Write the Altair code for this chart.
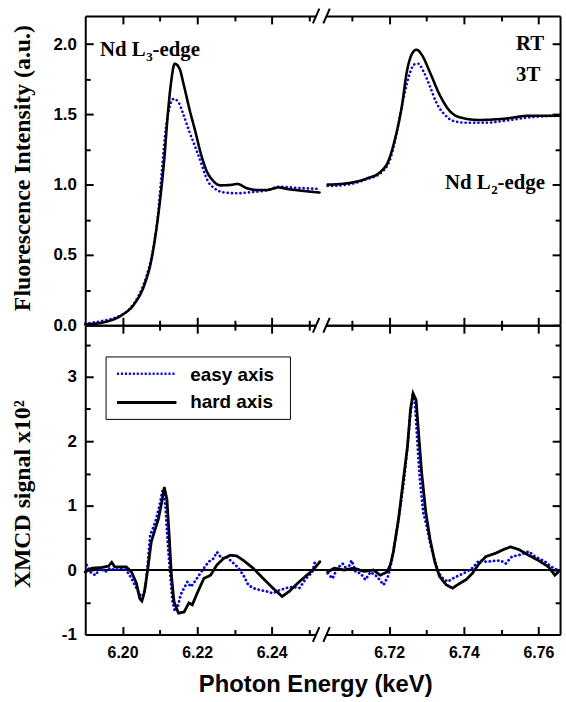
import altair as alt
import pandas as pd

SANS = "Liberation Sans"
SERIF = "Liberation Serif"
BLUE = "#0000ff"

# broken x axis: energies above the gap are drawn shifted left by OFFSET
OFFSET = 0.4485
SPLIT = 6.2555
X_MIN, X_MAX = 6.19, 6.3173
BREAK_E = 6.2533

SERIES = ["easy axis", "hard axis"]
SERIES_COLORS = [BLUE, "black"]
SERIES_DASH = [[0.1, 4.2], [1, 0]]

X_TICK_E = [6.20, 6.21, 6.22, 6.23, 6.24, 6.25, 6.71, 6.72, 6.73, 6.74, 6.75, 6.76]
TOP_Y_TICKS = [0, 0.25, 0.5, 0.75, 1.0, 1.25, 1.5, 1.75, 2.0]
BOT_Y_TICKS = [-1, -0.5, 0, 0.5, 1, 1.5, 2, 2.5, 3, 3.5]

# ---------------- Fluorescence, Nd L3 edge ----------------
L3_E_HARD = [6.1900, 6.1953, 6.1997, 6.2032, 6.2059, 6.2077, 6.2090, 6.2101, 6.2112, 6.2121,
             6.2130, 6.2140, 6.2152, 6.2165, 6.2180, 6.2195, 6.2210, 6.2225, 6.2242, 6.2262,
             6.2290, 6.2308, 6.2334, 6.2361, 6.2387, 6.2418, 6.2440, 6.2476, 6.2528]
L3_V_HARD = [0.005, 0.023, 0.07, 0.153, 0.29, 0.46, 0.67, 0.90, 1.185, 1.49,
             1.725, 1.86, 1.83, 1.70, 1.53, 1.38, 1.22, 1.10, 1.03, 0.995,
             0.998, 1.005, 0.974, 0.962, 0.962, 0.98, 0.97, 0.958, 0.944]
L3_E_EASY = [6.1900, 6.1944, 6.1980, 6.2015, 6.2041, 6.2063, 6.2081, 6.2094, 6.2105, 6.2116,
             6.2125, 6.2137, 6.2149, 6.2163, 6.2178, 6.2196, 6.2210, 6.2220, 6.2230, 6.2246,
             6.2273, 6.2308, 6.2343, 6.2379, 6.2423, 6.2458, 6.2493, 6.2522]
L3_V_EASY = [0.012, 0.03, 0.054, 0.106, 0.20, 0.34, 0.53, 0.763, 1.09, 1.40,
             1.54, 1.61, 1.59, 1.50, 1.385, 1.26, 1.16, 1.08, 1.02, 0.975,
             0.944, 0.939, 0.946, 0.955, 0.986, 0.979, 0.974, 0.97]

# ---------------- Fluorescence, Nd L2 edge ----------------
L2_E_HARD = [6.7035, 6.7088, 6.7141, 6.7176, 6.7198, 6.7216, 6.7234, 6.7247, 6.7260, 6.7273,
             6.7287, 6.7309, 6.7335, 6.7362, 6.7388, 6.7441, 6.7512, 6.7574, 6.7658]
L2_V_HARD = [1.00, 1.01, 1.045, 1.09, 1.17, 1.33, 1.56, 1.80, 1.925, 1.96,
             1.925, 1.80, 1.64, 1.525, 1.48, 1.46, 1.47, 1.49, 1.49]
L2_E_EASY = [6.7035, 6.7088, 6.7141, 6.7176, 6.7203, 6.7220, 6.7238, 6.7256, 6.7267, 6.7278,
             6.7291, 6.7309, 6.7326, 6.7348, 6.7370, 6.7406, 6.7459, 6.7512, 6.7582, 6.7658]
L2_V_EASY = [0.99, 1.00, 1.04, 1.08, 1.185, 1.37, 1.61, 1.80, 1.855, 1.86,
             1.81, 1.70, 1.585, 1.50, 1.455, 1.44, 1.44, 1.455, 1.48, 1.49]

# ---------------- XMCD, Nd L3 edge ----------------
X3_E_HARD = [6.1900, 6.1918, 6.1944, 6.1962, 6.1971, 6.1979, 6.1988, 6.2010, 6.2024, 6.2037,
             6.2046, 6.2052, 6.2059, 6.2068, 6.2077, 6.2085, 6.2096, 6.2105, 6.2112, 6.2119,
             6.2125, 6.2131, 6.2138, 6.2150, 6.2165, 6.2178, 6.2187, 6.2200, 6.2218, 6.2236,
             6.2253, 6.2271, 6.2289, 6.2306, 6.2324, 6.2350, 6.2377, 6.2403, 6.2428, 6.2447,
             6.2474, 6.2500, 6.2518, 6.2529]
X3_V_HARD = [-0.03, 0.03, 0.04, 0.06, 0.12, 0.05, 0.05, 0.05, -0.03, -0.20,
             -0.44, -0.48, -0.33, 0.03, 0.44, 0.59, 0.79, 1.05, 1.28, 1.10,
             0.54, -0.08, -0.49, -0.67, -0.65, -0.51, -0.54, -0.36, -0.13, -0.08,
             0.08, 0.18, 0.23, 0.22, 0.15, 0.03, -0.13, -0.28, -0.41, -0.33,
             -0.18, -0.05, 0.05, 0.13]
X3_E_EASY = [6.1904, 6.1913, 6.1927, 6.1940, 6.1953, 6.1966, 6.1980, 6.1997, 6.2010, 6.2024,
             6.2037, 6.2046, 6.2055, 6.2062, 6.2068, 6.2074, 6.2081, 6.2090, 6.2099, 6.2108,
             6.2115, 6.2121, 6.2128, 6.2134, 6.2140, 6.2147, 6.2156, 6.2165, 6.2174, 6.2183,
             6.2191, 6.2205, 6.2218, 6.2231, 6.2244, 6.2253, 6.2266, 6.2280, 6.2293, 6.2311,
             6.2324, 6.2337, 6.2350, 6.2368, 6.2386, 6.2403, 6.2421, 6.2439, 6.2456, 6.2474,
             6.2492, 6.2509, 6.2516]
X3_V_EASY = [0.08, -0.03, -0.08, 0.03, -0.03, 0.03, 0.00, 0.03, 0.00, -0.13,
             -0.28, -0.38, -0.41, -0.23, 0.13, 0.54, 0.64, 0.79, 1.00, 1.26,
             1.00, 0.44, -0.08, -0.49, -0.64, -0.59, -0.38, -0.28, -0.18, -0.26,
             -0.20, -0.08, 0.03, 0.13, 0.18, 0.28, 0.18, 0.20, 0.13, 0.03,
             -0.08, -0.23, -0.28, -0.31, -0.33, -0.36, -0.31, -0.28, -0.26, -0.28,
             -0.13, -0.03, 0.13]

# ---------------- XMCD, Nd L2 edge ----------------
X2_E_HARD = [6.7035, 6.7053, 6.7079, 6.7105, 6.7132, 6.7158, 6.7176, 6.7194, 6.7203, 6.7211,
             6.7225, 6.7238, 6.7249, 6.7257, 6.7264, 6.7272, 6.7278, 6.7287, 6.7298, 6.7309,
             6.7322, 6.7335, 6.7353, 6.7370, 6.7388, 6.7406, 6.7423, 6.7441, 6.7459, 6.7485,
             6.7503, 6.7525, 6.7547, 6.7574, 6.7600, 6.7627, 6.7644, 6.7653]
X2_V_HARD = [-0.03, 0.03, 0.00, 0.03, -0.02, 0.00, -0.08, -0.03, 0.08, 0.28,
             0.79, 1.41, 1.92, 2.49, 2.74, 2.64, 2.18, 1.51, 0.90, 0.49,
             0.13, -0.10, -0.23, -0.28, -0.21, -0.15, -0.05, 0.10, 0.21, 0.26,
             0.31, 0.36, 0.32, 0.23, 0.15, 0.05, -0.08, -0.03]
X2_E_EASY = [6.7035, 6.7048, 6.7061, 6.7075, 6.7088, 6.7099, 6.7110, 6.7123, 6.7136, 6.7150,
             6.7167, 6.7185, 6.7198, 6.7207, 6.7218, 6.7229, 6.7240, 6.7249, 6.7256, 6.7263,
             6.7269, 6.7275, 6.7282, 6.7291, 6.7300, 6.7311, 6.7322, 6.7331, 6.7344, 6.7357,
             6.7370, 6.7388, 6.7406, 6.7423, 6.7441, 6.7459, 6.7476, 6.7498, 6.7512, 6.7529,
             6.7547, 6.7574, 6.7591, 6.7618, 6.7635, 6.7651]
X2_V_EASY = [-0.05, -0.13, 0.03, 0.10, 0.00, 0.15, -0.03, -0.05, -0.15, -0.03,
             -0.10, -0.23, -0.08, 0.15, 0.54, 0.95, 1.41, 1.92, 2.38, 2.72,
             2.59, 2.03, 1.41, 0.90, 0.69, 0.38, 0.15, -0.03, -0.13, -0.18,
             -0.13, -0.08, -0.03, 0.03, 0.15, 0.13, 0.14, 0.15, 0.10, 0.21,
             0.23, 0.29, 0.21, 0.13, 0.05, 0.00]

# ---------------- annotations ----------------
TOP_LABELS = ["Nd L", "Nd L"]
TOP_SUBS = ["3", "2"]
TOP_SUFFIX = ["-edge", "-edge"]
TOP_LABEL_E = [6.2062, 6.7472]
TOP_LABEL_V = [1.915, 0.970]
COND_TEXT = ["RT", "3T"]
COND_E = [6.7540, 6.7540]
COND_V = [1.958, 1.739]


def frame(E, v, series, seg):
    return pd.DataFrame({"E": E, "v": v, "series": series, "seg": seg})


top_df = pd.concat([
    frame(L3_E_EASY, L3_V_EASY, SERIES[0], "L3"),
    frame(L2_E_EASY, L2_V_EASY, SERIES[0], "L2"),
    frame(L3_E_HARD, L3_V_HARD, SERIES[1], "L3"),
    frame(L2_E_HARD, L2_V_HARD, SERIES[1], "L2"),
], ignore_index=True)
bot_df = pd.concat([
    frame(X3_E_EASY, X3_V_EASY, SERIES[0], "L3"),
    frame(X2_E_EASY, X2_V_EASY, SERIES[0], "L2"),
    frame(X3_E_HARD, X3_V_HARD, SERIES[1], "L3"),
    frame(X2_E_HARD, X2_V_HARD, SERIES[1], "L2"),
], ignore_index=True)

SHIFT = f"datum.E > 6.5 ? datum.E - {OFFSET} : datum.E"
X_TICKS = [round(e - OFFSET, 6) if e > 6.5 else e for e in X_TICK_E]
XE = f"(datum.value > {SPLIT} ? datum.value + {OFFSET} : datum.value)"
X_MAJOR = f"round({XE}*100) % 2 == 0"
TOP_Y_MAJOR = "round(datum.value*4) % 2 == 0"
BOT_Y_MAJOR = "round(datum.value*2) % 2 == 0"

XSCALE = alt.Scale(domain=[X_MIN, X_MAX], nice=False, zero=False)
ONE = pd.DataFrame({"a": [0]})


def axis(orient, values, major, label_expr=None, **extra):
    kw = dict(orient=orient, values=values, grid=False, domain=True, domainColor="black",
              domainWidth=2, ticks=True, tickColor="black", tickWidth=2,
              tickSize=alt.ExprRef(expr=f"({major}) ? -8 : -5"),
              labelFlush=False, labelOverlap=False, title="")
    if label_expr:
        kw.update(labels=True, labelExpr=label_expr, labelFont=SANS, labelFontSize=16,
                  labelFontWeight="bold", labelColor="black")
    else:
        kw.update(labels=False)
    kw.update(extra)
    return alt.Axis(**kw)


def curves(df, ydom, xax, yax, interp, width, opacity=1.0):
    return alt.Chart(df).transform_calculate(xp=SHIFT).mark_line(
        strokeWidth=width, strokeCap="round", interpolate=interp, opacity=opacity
    ).encode(
        x=alt.X("xp:Q", scale=XSCALE, axis=xax),
        y=alt.Y("v:Q", scale=alt.Scale(domain=ydom, nice=False, zero=False), axis=yax),
        color=alt.Color("series:N", scale=alt.Scale(domain=SERIES, range=SERIES_COLORS), legend=None),
        strokeDash=alt.StrokeDash("series:N", scale=alt.Scale(domain=SERIES, range=SERIES_DASH), legend=None),
        detail="seg:N",
    )


def breaks(edges):
    d = pd.DataFrame({"E": [BREAK_E] * len(edges), "v": edges})
    base = alt.Chart(d).transform_calculate(xp="datum.E")
    enc = dict(x=alt.X("xp:Q", axis=None), x2="xp:Q", y=alt.Y("v:Q", axis=None), y2="v:Q")
    gap = base.mark_rule(color="white", strokeWidth=5, xOffset=-5, x2Offset=5).encode(**enc)
    s1 = base.mark_rule(color="black", strokeWidth=2, xOffset=-8.5, x2Offset=-2,
                        yOffset=7.5, y2Offset=-7.5).encode(**enc)
    s2 = base.mark_rule(color="black", strokeWidth=2, xOffset=2, x2Offset=8.5,
                        yOffset=7.5, y2Offset=-7.5).encode(**enc)
    return [gap, s1, s2]


def extent_anchor(ypix):
    # invisible rule fixing the outer extent of the figure (left margin / top / bottom)
    return alt.Chart(ONE).mark_rule(strokeWidth=1, strokeOpacity=0, color="white").encode(
        x=alt.value(-85.5), x2=alt.value(479.5), y=alt.value(ypix))


# ---------------- top panel ----------------
top_x_bottom = axis("bottom", X_TICKS, X_MAJOR)
top_x_top = axis("top", X_TICKS, X_MAJOR)
top_y_left = axis("left", TOP_Y_TICKS, TOP_Y_MAJOR,
                  label_expr=f"({TOP_Y_MAJOR}) ? format(datum.value, '.1f') : ''",
                  labelPadding=17, labelFontSize=17, title="Fluorescence Intensity (a.u.)",
                  titleFont=SERIF, titleFontSize=24, titleFontWeight="bold", titleColor="black",
                  titleX=-63, titleY=153, titleBaseline="middle", titleAlign="center")
top_y_right = axis("right", TOP_Y_TICKS, TOP_Y_MAJOR)

top_lines = curves(top_df, [0, 2.2], top_x_bottom, top_y_left, "monotone", 2.6)
top_mirror = curves(top_df, [0, 2.2], top_x_top, top_y_right, "monotone", 2.6, opacity=0)

ann = pd.DataFrame({"E": TOP_LABEL_E, "v": TOP_LABEL_V, "main": TOP_LABELS,
                    "sub": TOP_SUBS, "suf": TOP_SUFFIX})
ann_base = alt.Chart(ann).transform_calculate(xp=SHIFT)
ann_enc = dict(x=alt.X("xp:Q", axis=None), y=alt.Y("v:Q", axis=None))
ann_main = ann_base.mark_text(align="right", baseline="alphabetic", font=SERIF, fontSize=21,
                              fontWeight="bold", color="black").encode(text="main:N", **ann_enc)
ann_sub = ann_base.mark_text(align="left", baseline="alphabetic", font=SERIF, fontSize=13,
                             fontWeight="bold", color="black", dx=0.5, dy=5).encode(text="sub:N", **ann_enc)
ann_suf = ann_base.mark_text(align="left", baseline="alphabetic", font=SERIF, fontSize=21,
                             fontWeight="bold", color="black", dx=7).encode(text="suf:N", **ann_enc)
cond = pd.DataFrame({"E": COND_E, "v": COND_V, "t": COND_TEXT})
cond_text = alt.Chart(cond).transform_calculate(xp=SHIFT).mark_text(
    align="left", baseline="alphabetic", font=SERIF, fontSize=21, fontWeight="bold", color="black"
).encode(text="t:N", **ann_enc)

top = alt.layer(top_lines, top_mirror, ann_main, ann_sub, ann_suf, cond_text,
                *breaks([2.2]), extent_anchor(-12.5)).resolve_axis(
    x="independent", y="independent").properties(width=479, height=312)

# ---------------- bottom panel ----------------
bot_x_bottom = axis("bottom", X_TICKS, X_MAJOR,
                    label_expr=f"({X_MAJOR}) ? format({XE}, '.2f') : ''",
                    labelPadding=18, title="Photon Energy (keV)", titleFont=SANS,
                    titleFontSize=24, titleFontWeight="bold", titleColor="black",
                    titleX=232, titleY=58, titleBaseline="alphabetic", titleAlign="center")
bot_x_top = axis("top", X_TICKS, X_MAJOR)
bot_y_left = axis("left", BOT_Y_TICKS, BOT_Y_MAJOR,
                  label_expr=f"({BOT_Y_MAJOR}) ? '' + datum.value : ''",
                  labelPadding=17, labelFontSize=17, title="XMCD signal x10\u00b2",
                  titleFont=SERIF, titleFontSize=24, titleFontWeight="bold", titleColor="black",
                  titleX=-63, titleY=170, titleBaseline="middle", titleAlign="center")
bot_y_right = axis("right", BOT_Y_TICKS, BOT_Y_MAJOR)

zero = alt.Chart(pd.DataFrame({"v": [0]})).mark_rule(color="black", strokeWidth=2).encode(
    y=alt.Y("v:Q", axis=None))
bot_lines = curves(bot_df, [-1, 3.8], bot_x_bottom, bot_y_left, "linear", 2.8)
bot_mirror = curves(bot_df, [-1, 3.8], bot_x_top, bot_y_right, "linear", 2.8, opacity=0)

# legend (drawn by hand inside the panel)
leg_box = alt.Chart(ONE).mark_rect(fill="white", stroke="black", strokeWidth=1).encode(
    x=alt.value(21), x2=alt.value(207), y=alt.value(32), y2=alt.value(95))
leg_easy = alt.Chart(ONE).mark_rule(color=BLUE, strokeWidth=2.6, strokeDash=[2, 2]).encode(
    x=alt.value(32), x2=alt.value(92), y=alt.value(49))
leg_hard = alt.Chart(ONE).mark_rule(color="black", strokeWidth=3).encode(
    x=alt.value(32), x2=alt.value(92), y=alt.value(78))
leg_text = alt.Chart(pd.DataFrame({"t": SERIES, "yy": [50, 77]})).mark_text(
    align="left", baseline="middle", font=SANS, fontSize=19, fontWeight="bold", color="black"
).encode(x=alt.value(106), y=alt.Y("yy:Q", scale=None, axis=None), text="t:N")

bottom = alt.layer(zero, bot_lines, bot_mirror, leg_box, leg_easy, leg_hard, leg_text,
                   *breaks([3.8, -1]), extent_anchor(376.5)).resolve_axis(
    x="independent", y="independent").properties(width=479, height=312)

chart = alt.vconcat(top, bottom, spacing=0, bounds="flush").properties(
    padding=0).configure_view(stroke=None).configure(background="white")

chart.save("out.html", embed_options={"renderer": "svg", "actions": False})
